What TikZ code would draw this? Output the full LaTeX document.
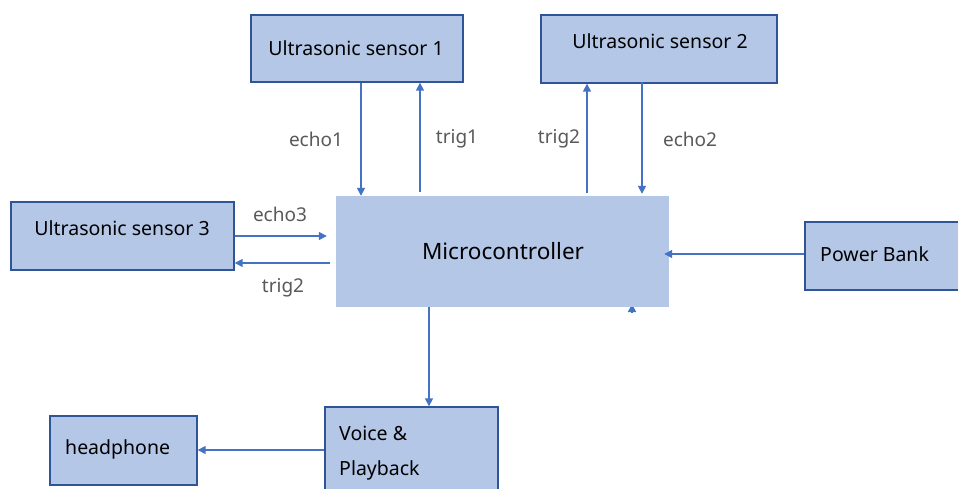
\documentclass[tikz,border=0pt]{standalone}
\usepackage{fontspec}
\setmainfont{Noto Sans}
\usetikzlibrary{arrows.meta}
\definecolor{boxfill}{HTML}{B4C7E7}
\definecolor{boxline}{HTML}{2F5597}
\definecolor{wire}{HTML}{4472C4}
\definecolor{tag}{HTML}{595959}
\tikzset{
  blk/.style={draw=boxline, line width=1.4pt, fill=boxfill, rectangle, inner sep=0pt},
  core/.style={fill=boxfill, rectangle, inner sep=0pt},
  txt/.style={font=\fontsize{19.5}{22}\selectfont, text=black, inner sep=0pt},
  sig/.style={font=\fontsize{19}{22}\selectfont, text=tag, inner sep=0pt},
  arr/.style={draw=wire, line width=1.5pt, -{Triangle[length=8pt,width=8pt]}}
}
\begin{document}
\begin{tikzpicture}[x=1pt,y=-1pt]
\useasboundingbox (0,0) rectangle (958,489);
\clip (0,0) rectangle (958,489);
\fill[white] (0,0) rectangle (958,489);

% blocks
\node[blk, minimum width=212pt, minimum height=67pt] (us1) at (357,48.5) {};
\node[blk, minimum width=236pt, minimum height=68pt] (us2) at (659,49) {};
\node[blk, minimum width=223pt, minimum height=68pt] (us3) at (122.5,236) {};
\node[blk, minimum width=160pt, minimum height=68pt] (pb) at (885,256) {};
\node[blk, minimum width=147pt, minimum height=69pt] (hp) at (123.5,450.5) {};
\node[blk, minimum width=173pt, minimum height=100pt] (vp) at (411.5,457) {};

% small stray arrow tip under the controller
\coordinate (stub) at (632,313);
\draw[arr] (stub) -- (632,304);
\node[core, minimum width=333pt, minimum height=111pt] (mc) at (502.5,251.5) {};

% block texts
\node[txt] (t1) at (356,48) {Ultrasonic sensor 1};
\node[txt] (t2) at (660,41) {Ultrasonic sensor 2};
\node[txt] (t3) at (122,228) {Ultrasonic sensor 3};
\node[txt, font=\fontsize{22.5}{26}\selectfont] (tm) at (503,251) {Microcontroller};
\node[txt, anchor=west] (tp) at (820,254) {Power Bank};
\node[txt, anchor=west] (th) at (65,449) {headphone};
\node[txt, anchor=west] (tv1) at (339,433) {Voice \&};
\node[txt, anchor=west] (tv2) at (339,470) {Playback};

% sensor 1 lines
\draw[arr] (us1.south -| 361,0) -- (mc.north -| 361,0);
\draw[arr] ([yshift=4pt]mc.north -| 420,0) -- (us1.south -| 420,0);
% sensor 2 lines
\draw[arr] ([yshift=3pt]mc.north -| 587,0) -- (us2.south -| 587,0);
\draw[arr] ([yshift=2pt]us2.south -| 642,0) -- ([yshift=2pt]mc.north -| 642,0);
% sensor 3 lines
\draw[arr] (us3.east |- 0,236) -- ([xshift=-9pt]mc.west |- 0,236);
\draw[arr] ([xshift=-6pt]mc.west |- 0,263) -- (us3.east |- 0,263);
% power, output
\draw[arr] (pb.west |- 0,254) -- ([xshift=-5pt]mc.east |- 0,254);
\draw[arr] (mc.south -| 429,0) -- (vp.north -| 429,0);
\draw[arr] (vp.west |- 0,450) -- (hp.east |- 0,450);

% signal names
\node[sig] (l1) at (316,139) {echo1};
\node[sig] (l2) at (457,139) {trig1};
\node[sig] (l3) at (559,139) {trig2};
\node[sig] (l4) at (690,139) {echo2};
\node[sig] (l5) at (280,214) {echo3};
\node[sig] (l6) at (283,288) {trig2};
\end{tikzpicture}
\end{document}
